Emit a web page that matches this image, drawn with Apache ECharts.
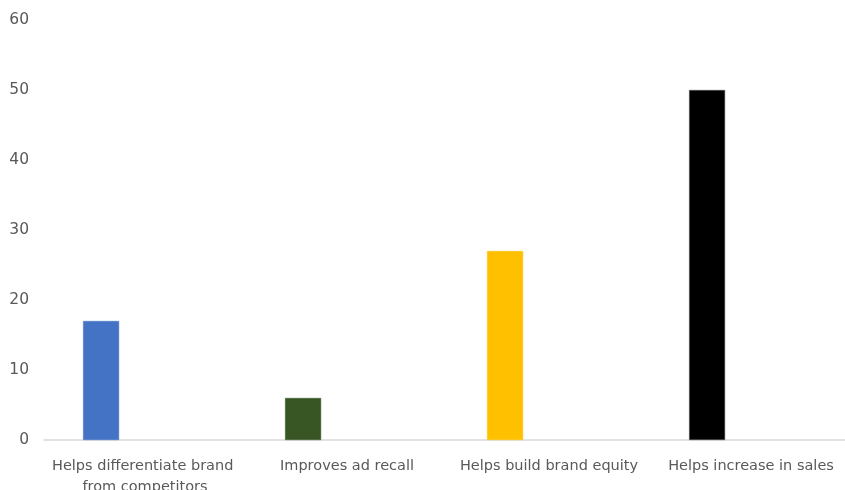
<!DOCTYPE html>
<html>
<head>
<meta charset="utf-8">
<script src="https://cdn.jsdelivr.net/npm/echarts@6/dist/echarts.min.js"></script>
<style>
  html, body { margin: 0; padding: 0; background: #fff; }
  #chart { width: 845px; height: 490px; }
</style>
</head>
<body>
<div id="chart"></div>
<script>
// categories and values
const categories = [
  'Helps differentiate brand from competitors',
  'Improves ad recall',
  'Helps build brand equity',
  'Helps increase in sales'
]
const values = [17, 6, 27, 50]
const barColors = ['#4472C4', '#375623', '#FFC000', '#000000']
const yTicks = [0, 10, 20, 30, 40, 50, 60]

const chart = echarts.init(document.getElementById('chart'))

chart.setOption({
  animation: false,
  grid: {
    left: 44,
    right: -7,
    top: 20,
    bottom: 50,
    outerBoundsMode: 'none',
    containLabel: false,
  },
  xAxis: {
    type: 'category',
    data: categories,
    axisLine: {lineStyle: {color: '#d9d9d9', width: 1.5}},
    axisTick: {show: false},
    axisLabel: {
      color: '#595959',
      fontFamily: 'DejaVu Sans',
      fontSize: 14.5,
      margin: 16,
      width: 200,
      overflow: 'break',
      lineHeight: 21,
      interval: 0,
    },
  },
  yAxis: {
    type: 'value',
    min: yTicks[0],
    max: yTicks[yTicks.length - 1],
    interval: 10,
    splitLine: {show: false},
    axisLine: {show: false},
    axisTick: {show: false},
    axisLabel: {
      color: '#595959',
      fontFamily: 'DejaVu Sans',
      fontSize: 15.5,
      margin: 15,
    },
  },
  series: [
    {
      type: 'bar',
      barWidth: 36,
      barGap: '144%',
      data: values.map((v, i) => ({
        value: v,
        itemStyle: {color: barColors[i], borderColor: i === 3 ? '#555' : barColors[i], borderWidth: 0.5},
      })),
    },
    {
      // empty second series leaves the right half of each slot blank
      type: 'bar',
      barWidth: 36,
      data: values.map(() => null),
    },
  ],
})
</script>
</body>
</html>
